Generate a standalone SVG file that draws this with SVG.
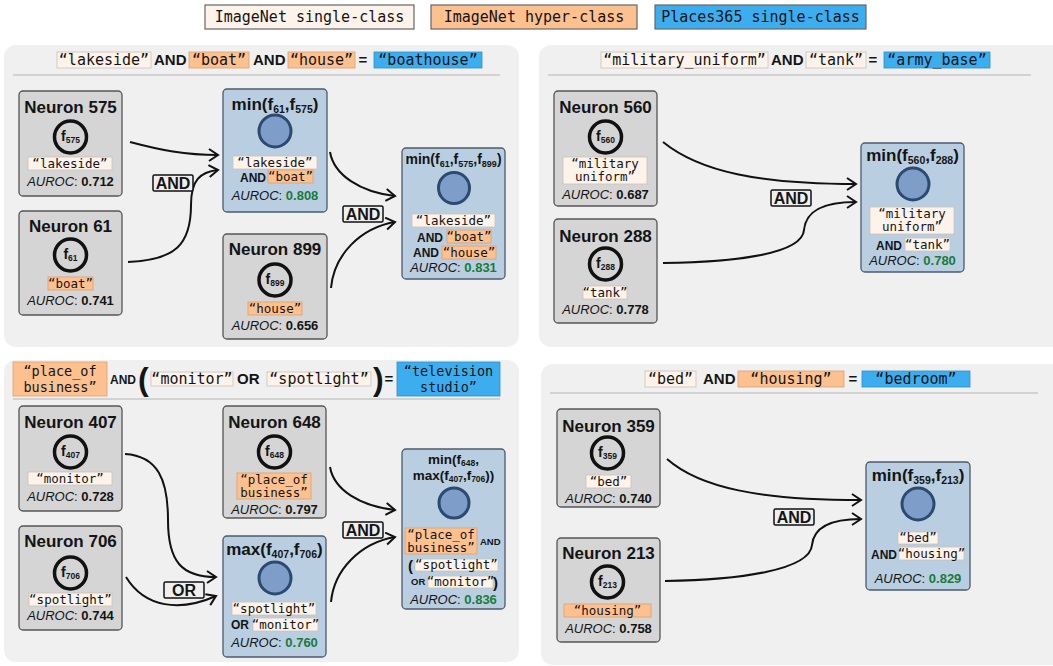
<svg xmlns="http://www.w3.org/2000/svg" width="1053" height="666" viewBox="0 0 1053 666">
  <style>
    .panel { fill: #f0f0f0; }
    .neuron { fill: #d5d5d5; stroke: #555; stroke-width: 1.3; }
    .comp { fill: #b9cfe1; stroke: #4b5b6b; stroke-width: 1.3; }
    .ring { fill: none; stroke: #111; stroke-width: 3.5; }
    .unit { fill: #7e9ec9; stroke: #2c4a70; stroke-width: 3; }
    .single { fill: #fdf3ea; stroke: #c9c0b8; stroke-width: 0.8; }
    .hyper { fill: #fdc18f; stroke: #d8a070; stroke-width: 0.8; }
    .places { fill: #3caef0; stroke: #2a90c8; stroke-width: 0.8; }
    .legend { stroke: #666; stroke-width: 1.2; }
    .sep { stroke: #b4b4b4; stroke-width: 1; }
    text { fill: #141414; }
    .h { font-family: "Liberation Sans", Arial, sans-serif; font-weight: bold; font-size: 17px; text-anchor: middle; }
    .h14 { font-family: "Liberation Sans", Arial, sans-serif; font-weight: bold; font-size: 14px; text-anchor: middle; }
    .h13 { font-family: "Liberation Sans", Arial, sans-serif; font-weight: bold; font-size: 13.5px; text-anchor: middle; }
    .f { font-family: "Liberation Sans", Arial, sans-serif; font-weight: bold; font-size: 14px; text-anchor: middle; }
    .m { font-family: "DejaVu Sans Mono", monospace; font-size: 12.5px; text-anchor: middle; }
    .mt { font-family: "DejaVu Sans Mono", monospace; font-size: 15px; text-anchor: middle; }
    .mt2 { font-family: "DejaVu Sans Mono", monospace; font-size: 13.5px; text-anchor: middle; }
    .au { font-family: "Liberation Sans", Arial, sans-serif; font-size: 13px; text-anchor: middle; }
    .it { font-style: italic; }
    .v { font-weight: bold; }
    .good { fill: #1b7a3b; }
    .op { font-family: "Liberation Sans", Arial, sans-serif; font-weight: bold; font-size: 12px; }
    .opt { font-family: "Liberation Sans", Arial, sans-serif; font-weight: bold; font-size: 15px; }
    .paren { font-family: "Liberation Sans", Arial, sans-serif; font-weight: bold; }
    .wire { fill: none; stroke: #111; stroke-width: 2; marker-end: url(#arrow); }
    .gate rect { fill: #efefef; stroke: #111; stroke-width: 1.5; }
    .gate text { font-family: "Liberation Sans", Arial, sans-serif; font-weight: bold; font-size: 16px; text-anchor: middle; }
  </style>
  <defs>
    <marker id="arrow" markerUnits="userSpaceOnUse" markerWidth="14" markerHeight="16" refX="11" refY="7" orient="auto">
      <path d="M2,1 L11,7 L2,13" fill="none" stroke="#111" stroke-width="2" stroke-linejoin="miter"/>
    </marker>
  </defs>

  <!-- legend -->
  <g id="legend">
    <rect class="single legend" x="205" y="5" width="209" height="24"/>
    <text class="mt" x="309.5" y="22">ImageNet single-class</text>
    <rect class="hyper legend" x="431" y="5" width="206" height="24"/>
    <text class="mt" x="534" y="22">ImageNet hyper-class</text>
    <rect class="places legend" x="655" y="5" width="211" height="24"/>
    <text class="mt" x="760.5" y="22">Places365 single-class</text>
  </g>

  <!-- panels -->
  <rect class="panel" x="4" y="45" width="515" height="302" rx="12"/>
  <rect class="panel" x="539" y="45" width="530" height="302" rx="12"/>
  <rect class="panel" x="4" y="360" width="515" height="302" rx="12"/>
  <rect class="panel" x="541" y="364" width="530" height="301" rx="12"/>

  <!-- panel headings -->
  <g id="heading-boathouse">
    <rect class="single" x="57" y="52" width="94" height="16"/>
    <text class="mt" x="104" y="64.5">“lakeside”</text>
    <text class="opt" x="154" y="65">AND</text>
    <rect class="hyper" x="189" y="52" width="60" height="16"/>
    <text class="mt" x="219" y="64.5">“boat”</text>
    <text class="opt" x="253" y="65">AND</text>
    <rect class="hyper" x="288" y="52" width="67" height="16"/>
    <text class="mt" x="321.5" y="64.5">“house”</text>
    <text class="opt" x="363" y="65" text-anchor="middle">=</text>
    <rect class="places" x="374" y="52" width="108" height="16"/>
    <text class="mt" x="428" y="64.5">“boathouse”</text>
    <line class="sep" x1="13" y1="75" x2="500" y2="75"/>
  </g>
  <g id="heading-army-base">
    <rect class="single" x="601" y="52" width="167" height="16"/>
    <text class="mt" x="684.5" y="64.5">“military_uniform”</text>
    <text class="opt" x="771" y="65">AND</text>
    <rect class="single" x="806" y="52" width="60" height="16"/>
    <text class="mt" x="836" y="64.5">“tank”</text>
    <text class="opt" x="873" y="65" text-anchor="middle">=</text>
    <rect class="places" x="884" y="52" width="106" height="16"/>
    <text class="mt" x="937" y="64.5">“army_base”</text>
    <line class="sep" x1="548" y1="75" x2="1031" y2="75"/>
  </g>
  <g id="heading-tv-studio">
    <rect class="hyper" x="13" y="362" width="94" height="34"/>
    <text class="mt2" x="60" y="375.5">“place_of</text>
    <text class="mt2" x="60" y="391.5">business”</text>
    <text class="op" x="110" y="384" font-size="13">AND</text>
    <text class="paren" x="138" y="390" font-size="32">(</text>
    <rect class="single" x="151" y="372" width="82" height="14"/>
    <text class="mt" x="192" y="383.5">“monitor”</text>
    <text class="opt" x="237" y="384">OR</text>
    <rect class="single" x="267" y="372" width="104" height="14"/>
    <text class="mt" x="319" y="383.5">“spotlight”</text>
    <text class="paren" x="373" y="390" font-size="32">)</text>
    <text class="opt" x="389" y="384" text-anchor="middle">=</text>
    <rect class="places" x="397" y="362" width="103" height="34"/>
    <text class="mt2" x="448.5" y="375.5">“television</text>
    <text class="mt2" x="448.5" y="391.5">studio”</text>
    <line class="sep" x1="13" y1="399" x2="500" y2="399"/>
  </g>
  <g id="heading-bedroom">
    <rect class="single" x="645" y="371" width="51" height="16"/>
    <text class="mt" x="670.5" y="383.5">“bed”</text>
    <text class="opt" x="703" y="384">AND</text>
    <rect class="hyper" x="738" y="371" width="106" height="16"/>
    <text class="mt" x="791" y="383.5">“housing”</text>
    <text class="opt" x="853" y="384" text-anchor="middle">=</text>
    <rect class="places" x="862" y="371" width="108" height="16"/>
    <text class="mt" x="916" y="383.5">“bedroom”</text>
    <line class="sep" x1="550" y1="393" x2="1038" y2="393"/>
  </g>

  <!-- connectors -->
  <g id="connectors">
    <path class="wire" d="M130,142 C160,150 185,155 218,155"/>
    <path class="wire" d="M128,262 C175,260 191,245 191,205 C191,180 200,172 218,170"/>
    <path class="wire" d="M330,152 C334,175 360,192 395,196"/>
    <path class="wire" d="M331,288 C334,255 360,228 395,222"/>

    <path class="wire" d="M663,142 C700,172 760,184 856,184"/>
    <path class="wire" d="M663,263 C730,262 802,255 804,230 C806,208 828,202 856,202"/>

    <path class="wire" d="M125,454 C158,456 168,480 168,520 C168,562 182,577 216,577"/>
    <path class="wire" d="M126,577 C145,608 180,612 216,596"/>
    <path class="wire" d="M330,467 C334,490 360,506 395,510"/>
    <path class="wire" d="M331,602 C334,570 360,543 395,537"/>

    <path class="wire" d="M667,459 C700,488 760,500 861,500"/>
    <path class="wire" d="M665,581 C740,580 810,570 812,545 C814,525 835,519 861,519"/>

    <g class="gate"><rect x="153" y="175" width="40" height="16" rx="1.5"/><text x="173" y="189">AND</text></g>
    <g class="gate"><rect x="343" y="206" width="40" height="16" rx="1.5"/><text x="363" y="220">AND</text></g>
    <g class="gate"><rect x="771" y="190" width="40" height="16" rx="1.5"/><text x="791" y="204">AND</text></g>
    <g class="gate"><rect x="164" y="582" width="40" height="16" rx="1.5"/><text x="184" y="596">OR</text></g>
    <g class="gate"><rect x="343" y="522" width="40" height="16" rx="1.5"/><text x="363" y="536">AND</text></g>
    <g class="gate"><rect x="774" y="509" width="40" height="16" rx="1.5"/><text x="794" y="523">AND</text></g>
  </g>

  <!-- boathouse panel -->
  <g id="neuron-575">
    <rect class="neuron" x="19" y="91" width="103" height="105" rx="4"/>
    <text class="h" x="70.5" y="113">Neuron 575</text>
    <circle class="ring" cx="70.5" cy="137" r="16"/>
    <text class="f" x="70.5" y="141">f<tspan font-size="8.5" dy="2">575</tspan></text>
    <rect class="single" x="28" y="157" width="84" height="13"/>
    <text class="m" x="70" y="167.5">“lakeside”</text>
    <text class="au" x="70.5" y="186"><tspan class="it">AUROC</tspan>: <tspan class="v">0.712</tspan></text>
  </g>
  <g id="neuron-61">
    <rect class="neuron" x="19" y="211" width="103" height="104" rx="4"/>
    <text class="h" x="70.5" y="232">Neuron 61</text>
    <circle class="ring" cx="70.5" cy="255" r="16"/>
    <text class="f" x="70.5" y="259">f<tspan font-size="8.5" dy="2">61</tspan></text>
    <rect class="hyper" x="48" y="277" width="45" height="13"/>
    <text class="m" x="70.5" y="287.5">“boat”</text>
    <text class="au" x="70.5" y="305"><tspan class="it">AUROC</tspan>: <tspan class="v">0.741</tspan></text>
  </g>
  <g id="min-61-575">
    <rect class="comp" x="223" y="89" width="104" height="123" rx="4"/>
    <text class="h" x="275" y="110">min(f<tspan font-size="10.5" dy="3">61</tspan><tspan dy="-3">,f</tspan><tspan font-size="10.5" dy="3">575</tspan><tspan dy="-3">)</tspan></text>
    <circle class="unit" cx="275" cy="131" r="16"/>
    <rect class="single" x="233" y="156" width="84" height="13"/>
    <text class="m" x="275" y="166.5">“lakeside”</text>
    <text class="op" x="240" y="181.5">AND</text>
    <rect class="hyper" x="268" y="170" width="45" height="13"/>
    <text class="m" x="290.5" y="180.5">“boat”</text>
    <text class="au" x="275" y="200"><tspan class="it">AUROC</tspan>: <tspan class="v good">0.808</tspan></text>
  </g>
  <g id="neuron-899">
    <rect class="neuron" x="223" y="234" width="104" height="105" rx="4"/>
    <text class="h" x="275" y="255">Neuron 899</text>
    <circle class="ring" cx="275" cy="280" r="16"/>
    <text class="f" x="275" y="284">f<tspan font-size="8.5" dy="2">899</tspan></text>
    <rect class="hyper" x="248" y="302" width="54" height="13"/>
    <text class="m" x="275" y="312.5">“house”</text>
    <text class="au" x="275" y="330"><tspan class="it">AUROC</tspan>: <tspan class="v">0.656</tspan></text>
  </g>
  <g id="min-61-575-899">
    <rect class="comp" x="402" y="148" width="103" height="131" rx="4"/>
    <text class="h14" x="453.5" y="164">min(f<tspan font-size="9" dy="2.5">61</tspan><tspan dy="-2.5">,f</tspan><tspan font-size="9" dy="2.5">575</tspan><tspan dy="-2.5">,f</tspan><tspan font-size="9" dy="2.5">899</tspan><tspan dy="-2.5">)</tspan></text>
    <circle class="unit" cx="454" cy="188" r="15.5"/>
    <rect class="single" x="412" y="214" width="83" height="13"/>
    <text class="m" x="453.5" y="224.5">“lakeside”</text>
    <text class="op" x="417" y="241.5">AND</text>
    <rect class="hyper" x="447" y="230" width="44" height="13"/>
    <text class="m" x="469" y="240.5">“boat”</text>
    <text class="op" x="413" y="257">AND</text>
    <rect class="hyper" x="442" y="246" width="54" height="13"/>
    <text class="m" x="469" y="256.5">“house”</text>
    <text class="au" x="453.5" y="272"><tspan class="it">AUROC</tspan>: <tspan class="v good">0.831</tspan></text>
  </g>

  <!-- army base panel -->
  <g id="neuron-560">
    <rect class="neuron" x="554" y="91" width="103" height="115" rx="4"/>
    <text class="h" x="605.5" y="113">Neuron 560</text>
    <circle class="ring" cx="605.5" cy="137" r="16"/>
    <text class="f" x="605.5" y="141">f<tspan font-size="8.5" dy="2">560</tspan></text>
    <rect class="single" x="563" y="157" width="84" height="27"/>
    <text class="m" x="605" y="168">“military</text>
    <text class="m" x="605" y="181">uniform”</text>
    <text class="au" x="605.5" y="199"><tspan class="it">AUROC</tspan>: <tspan class="v">0.687</tspan></text>
  </g>
  <g id="neuron-288">
    <rect class="neuron" x="554" y="219" width="103" height="104" rx="4"/>
    <text class="h" x="605.5" y="242">Neuron 288</text>
    <circle class="ring" cx="605.5" cy="264" r="16"/>
    <text class="f" x="605.5" y="268">f<tspan font-size="8.5" dy="2">288</tspan></text>
    <rect class="single" x="583" y="286" width="44" height="13"/>
    <text class="m" x="605" y="296.5">“tank”</text>
    <text class="au" x="605.5" y="314"><tspan class="it">AUROC</tspan>: <tspan class="v">0.778</tspan></text>
  </g>
  <g id="min-560-288">
    <rect class="comp" x="861" y="143" width="103" height="129" rx="4"/>
    <text class="h" x="912.5" y="161">min(f<tspan font-size="10.5" dy="3">560</tspan><tspan dy="-3">,f</tspan><tspan font-size="10.5" dy="3">288</tspan><tspan dy="-3">)</tspan></text>
    <circle class="unit" cx="913" cy="184" r="16"/>
    <rect class="single" x="870" y="207" width="84" height="27"/>
    <text class="m" x="912" y="218">“military</text>
    <text class="m" x="912" y="231">uniform”</text>
    <text class="op" x="876" y="249.5">AND</text>
    <rect class="single" x="905" y="238" width="45" height="13"/>
    <text class="m" x="927.5" y="248.5">“tank”</text>
    <text class="au" x="912.5" y="265"><tspan class="it">AUROC</tspan>: <tspan class="v good">0.780</tspan></text>
  </g>

  <!-- television studio panel -->
  <g id="neuron-407">
    <rect class="neuron" x="19" y="406" width="103" height="105" rx="4"/>
    <text class="h" x="70.5" y="428">Neuron 407</text>
    <circle class="ring" cx="70.5" cy="452" r="16"/>
    <text class="f" x="70.5" y="456">f<tspan font-size="8.5" dy="2">407</tspan></text>
    <rect class="single" x="28" y="472" width="84" height="13"/>
    <text class="m" x="70" y="482.5">“monitor”</text>
    <text class="au" x="70.5" y="501"><tspan class="it">AUROC</tspan>: <tspan class="v">0.728</tspan></text>
  </g>
  <g id="neuron-648">
    <rect class="neuron" x="223" y="406" width="103" height="112" rx="4"/>
    <text class="h" x="274.5" y="428">Neuron 648</text>
    <circle class="ring" cx="274.5" cy="452" r="16"/>
    <text class="f" x="274.5" y="456">f<tspan font-size="8.5" dy="2">648</tspan></text>
    <rect class="hyper" x="237" y="473" width="74" height="26"/>
    <text class="m" x="274" y="484">“place_of</text>
    <text class="m" x="274" y="497">business”</text>
    <text class="au" x="274.5" y="514"><tspan class="it">AUROC</tspan>: <tspan class="v">0.797</tspan></text>
  </g>
  <g id="neuron-706">
    <rect class="neuron" x="19" y="526" width="103" height="104" rx="4"/>
    <text class="h" x="70.5" y="547">Neuron 706</text>
    <circle class="ring" cx="70.5" cy="573" r="16"/>
    <text class="f" x="70.5" y="577">f<tspan font-size="8.5" dy="2">706</tspan></text>
    <rect class="single" x="29" y="593" width="83" height="13"/>
    <text class="m" x="70.5" y="603.5">“spotlight”</text>
    <text class="au" x="70.5" y="620"><tspan class="it">AUROC</tspan>: <tspan class="v">0.744</tspan></text>
  </g>
  <g id="max-407-706">
    <rect class="comp" x="223" y="536" width="103" height="121" rx="4"/>
    <text class="h" x="274.5" y="555">max(f<tspan font-size="10.5" dy="3">407</tspan><tspan dy="-3">,f</tspan><tspan font-size="10.5" dy="3">706</tspan><tspan dy="-3">)</tspan></text>
    <circle class="unit" cx="275" cy="578" r="16"/>
    <rect class="single" x="232" y="602" width="84" height="13"/>
    <text class="m" x="274" y="612.5">“spotlight”</text>
    <text class="op" x="231" y="629">OR</text>
    <rect class="single" x="253" y="618" width="65" height="13"/>
    <text class="m" x="285.5" y="628.5">“monitor”</text>
    <text class="au" x="274.5" y="647"><tspan class="it">AUROC</tspan>: <tspan class="v good">0.760</tspan></text>
  </g>
  <g id="min-648-max">
    <rect class="comp" x="402" y="449" width="103" height="160" rx="4"/>
    <text class="h13" x="453.5" y="464">min(f<tspan font-size="8.5" dy="1.5">648</tspan><tspan dy="-1.5">,</tspan></text>
    <text class="h13" x="453.5" y="480">max(f<tspan font-size="8.5" dy="1.5">407</tspan><tspan dy="-1.5">,f</tspan><tspan font-size="8.5" dy="1.5">706</tspan><tspan dy="-1.5">))</tspan></text>
    <circle class="unit" cx="454" cy="503" r="15"/>
    <rect class="hyper" x="405" y="528" width="72" height="26"/>
    <text class="m" x="441" y="539">“place_of</text>
    <text class="m" x="441" y="552">business”</text>
    <text x="480" y="545" font-family="Liberation Sans, Arial, sans-serif" font-weight="bold" font-size="9.5">AND</text>
    <text x="408" y="571" font-family="Liberation Sans, Arial, sans-serif" font-weight="bold" font-size="15">(</text>
    <rect class="single" x="415" y="559" width="83" height="12"/>
    <text class="m" x="456.5" y="569">“spotlight”</text>
    <text x="411" y="585" font-family="Liberation Sans, Arial, sans-serif" font-weight="bold" font-size="9.5">OR</text>
    <rect class="single" x="428" y="576" width="65" height="12"/>
    <text class="m" x="460.5" y="586">“monitor”</text>
    <text x="493" y="588" font-family="Liberation Sans, Arial, sans-serif" font-weight="bold" font-size="15">)</text>
    <text class="au" x="453.5" y="604"><tspan class="it">AUROC</tspan>: <tspan class="v good">0.836</tspan></text>
  </g>

  <!-- bedroom panel -->
  <g id="neuron-359">
    <rect class="neuron" x="557" y="409" width="103" height="98" rx="4"/>
    <text class="h" x="608.5" y="432">Neuron 359</text>
    <circle class="ring" cx="607.5" cy="453" r="16"/>
    <text class="f" x="607.5" y="457">f<tspan font-size="8.5" dy="2">359</tspan></text>
    <rect class="single" x="586" y="475" width="45" height="13"/>
    <text class="m" x="608.5" y="485.5">“bed”</text>
    <text class="au" x="608.5" y="503"><tspan class="it">AUROC</tspan>: <tspan class="v">0.740</tspan></text>
  </g>
  <g id="neuron-213">
    <rect class="neuron" x="557" y="538" width="103" height="104" rx="4"/>
    <text class="h" x="608.5" y="559">Neuron 213</text>
    <circle class="ring" cx="607.5" cy="582" r="16"/>
    <text class="f" x="607.5" y="586">f<tspan font-size="8.5" dy="2">213</tspan></text>
    <rect class="hyper" x="564" y="604" width="87" height="13"/>
    <text class="m" x="607.5" y="614.5">“housing”</text>
    <text class="au" x="608.5" y="633"><tspan class="it">AUROC</tspan>: <tspan class="v">0.758</tspan></text>
  </g>
  <g id="min-359-213">
    <rect class="comp" x="866" y="462" width="104" height="128" rx="4"/>
    <text class="h" x="918" y="481">min(f<tspan font-size="10.5" dy="3">359</tspan><tspan dy="-3">,f</tspan><tspan font-size="10.5" dy="3">213</tspan><tspan dy="-3">)</tspan></text>
    <circle class="unit" cx="918" cy="504" r="16"/>
    <rect class="single" x="898" y="532" width="40" height="12"/>
    <text class="m" x="918" y="542">“bed”</text>
    <text class="op" x="871" y="558.5">AND</text>
    <rect class="single" x="899" y="547" width="65" height="13"/>
    <text class="m" x="931.5" y="557.5">“housing”</text>
    <text class="au" x="918" y="583"><tspan class="it">AUROC</tspan>: <tspan class="v good">0.829</tspan></text>
  </g>
</svg>
